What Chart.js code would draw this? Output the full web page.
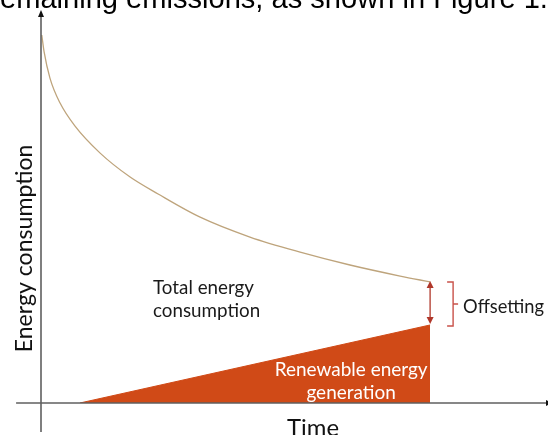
<!DOCTYPE html>
<html><head><meta charset="utf-8">
<script src="https://cdn.jsdelivr.net/npm/chart.js@4"></script>
<style>html,body{margin:0;padding:0;background:#fff;overflow:hidden}#wrap{position:relative;width:548px;height:435px}canvas{display:block}</style>
</head><body><div id="wrap"><canvas id="c" width="548" height="435"></canvas></div>
<script>
// ---- data (time 0..100, energy 0..100) ----
const TIME = [0.2, 0.8, 2.3, 4.9, 8.7, 15.2, 22.9, 30.1, 40.9, 53.7, 66.6, 79.4, 92.3, 100];
const TOTAL_ENERGY = [100, 95.4, 88.3, 81.5, 75.3, 67.9, 61.4, 56.8, 50.5, 45.1, 41.0, 37.5, 34.5, 32.9];
const RENEWABLE_TIME = [10, 100];
const RENEWABLE = [0, 21.2];
const X_MAX = 130.3;
const Y_MAX = 106.25;

// ---- texts ----
const CAPTION = "remaining emissions, as shown in Figure 1.";
const X_TITLE = "Time";
const Y_TITLE = "Energy consumption";
const TOTAL_LABEL = ["Total energy", "consumption"];
const RENEW_LABEL = ["Renewable energy", "generation"];
const OFFSET_LABEL = "Offsetting";

const FONT = "Lato, 'Open Sans', sans-serif";
const CAP_FONT = "'Liberation Sans', Arial, sans-serif";

function fitSize(ctx, text, family, w) {
  ctx.font = '100px ' + family;
  return 100 * w / ctx.measureText(text).width;
}
function setFont(ctx, size, family) { ctx.font = size.toFixed(2) + 'px ' + family; }
function capAsc(ctx) { return ctx.measureText('H').actualBoundingBoxAscent; }

const overlay = {
  id: 'overlay',
  afterDatasetsDraw(chart) {
    const {ctx, scales: {x, y}} = chart;
    const X = v => x.getPixelForValue(v), Y = v => y.getPixelForValue(v);
    ctx.save();

    // axes
    const x0 = X(0), y0 = Y(0), yTop = Y(Y_MAX);
    ctx.strokeStyle = '#5f5f5f'; ctx.lineWidth = 1.6;
    ctx.beginPath(); ctx.moveTo(x0, Y(-7.9)); ctx.lineTo(x0, yTop + 5); ctx.stroke();
    ctx.beginPath(); ctx.moveTo(X(-6.4), y0); ctx.lineTo(X(X_MAX) - 2, y0); ctx.stroke();
    ctx.fillStyle = '#111';
    ctx.beginPath(); ctx.moveTo(x0, yTop - 2); ctx.lineTo(x0 - 3, yTop + 5); ctx.lineTo(x0 + 3, yTop + 5); ctx.closePath(); ctx.fill();
    const xr = X(X_MAX) - 2;
    ctx.beginPath(); ctx.moveTo(xr + 6, y0); ctx.lineTo(xr, y0 - 3); ctx.lineTo(xr, y0 + 3); ctx.closePath(); ctx.fill();

    // offsetting double arrow
    const ax = X(TIME[TIME.length - 1]);
    const aTop = Y(TOTAL_ENERGY[TOTAL_ENERGY.length - 1]) - 1;
    const aBot = Y(RENEWABLE[RENEWABLE.length - 1]) - 1;
    ctx.strokeStyle = '#b0372a'; ctx.fillStyle = '#b0372a'; ctx.lineWidth = 1.3;
    ctx.beginPath(); ctx.moveTo(ax, aTop + 6); ctx.lineTo(ax, aBot - 6); ctx.stroke();
    ctx.beginPath(); ctx.moveTo(ax, aTop); ctx.lineTo(ax - 3.5, aTop + 7); ctx.lineTo(ax + 3.5, aTop + 7); ctx.closePath(); ctx.fill();
    ctx.beginPath(); ctx.moveTo(ax, aBot); ctx.lineTo(ax - 3.5, aBot - 7); ctx.lineTo(ax + 3.5, aBot - 7); ctx.closePath(); ctx.fill();

    // bracket
    const bT = aTop + 1, bB = aBot + 2, bM = (bT + bB) / 2;
    ctx.strokeStyle = '#c9524a'; ctx.lineWidth = 1.4;
    ctx.beginPath();
    ctx.moveTo(ax + 17, bT); ctx.lineTo(ax + 23, bT); ctx.lineTo(ax + 23, bB); ctx.lineTo(ax + 17, bB);
    ctx.moveTo(ax + 23, bM); ctx.lineTo(ax + 28, bM);
    ctx.stroke();

    // labels
    ctx.fillStyle = '#1a1a1a'; ctx.textAlign = 'left'; ctx.textBaseline = 'alphabetic';
    let s = fitSize(ctx, OFFSET_LABEL, FONT, 81); setFont(ctx, s, FONT);
    ctx.fillText(OFFSET_LABEL, ax + 33, bM - 5 + capAsc(ctx));

    s = fitSize(ctx, TOTAL_LABEL[0], FONT, 101); setFont(ctx, s, FONT);
    const tx = X(28.8), tTop = Y(33.4);
    const tb = tTop + capAsc(ctx);
    ctx.fillText(TOTAL_LABEL[0], tx, tb);
    ctx.fillText(TOTAL_LABEL[1], tx, tb + 23);

    ctx.fillStyle = '#ffffff'; ctx.textAlign = 'center';
    s = fitSize(ctx, RENEW_LABEL[0], FONT, 153); setFont(ctx, s, FONT);
    const rx = X(79.7), rTop = Y(11.2);
    const rb = rTop + capAsc(ctx);
    ctx.fillText(RENEW_LABEL[0], rx, rb);
    ctx.fillText(RENEW_LABEL[1], rx, rb + 23);

    // axis titles
    ctx.fillStyle = '#111';
    s = fitSize(ctx, X_TITLE, FONT, 52); setFont(ctx, s, FONT);
    ctx.fillText(X_TITLE, X(69.9), y0 + 16 + capAsc(ctx));

    s = fitSize(ctx, Y_TITLE, FONT, 208); setFont(ctx, s, FONT);
    ctx.save();
    ctx.translate(x0 - 26, Y(42));
    ctx.rotate(-Math.PI / 2);
    ctx.textBaseline = 'alphabetic';
    ctx.fillText(Y_TITLE, 0, capAsc(ctx) - 0);
    ctx.restore();

    // cut-off caption line at the top
    ctx.textAlign = 'left'; ctx.fillStyle = '#000';
    s = fitSize(ctx, CAPTION.slice(1, -1), CAP_FONT, 540); setFont(ctx, s, CAP_FONT);
    const rw = ctx.measureText(CAPTION[0]).width;
    ctx.fillText(CAPTION, -rw, 7.5);

    ctx.restore();
  }
};

new Chart(document.getElementById('c'), {
  type: 'scatter',
  data: {
    datasets: [
      {
        data: RENEWABLE_TIME.map((t, i) => ({x: t, y: RENEWABLE[i]})),
        showLine: true, fill: 'origin', tension: 0,
        backgroundColor: '#d04a17', borderColor: '#d04a17', borderWidth: 1,
        pointRadius: 0, order: 2
      },
      {
        data: TIME.map((t, i) => ({x: t, y: TOTAL_ENERGY[i]})),
        showLine: true, fill: false, cubicInterpolationMode: 'monotone',
        borderColor: '#bea47c', borderWidth: 1.3, pointRadius: 0, order: 1
      }
    ]
  },
  options: {
    responsive: false, animation: false, devicePixelRatio: 1, events: [],
    layout: {padding: {left: 41, right: 0, top: 12, bottom: 32}},
    scales: {
      x: {type: 'linear', min: 0, max: X_MAX, display: false},
      y: {type: 'linear', min: 0, max: Y_MAX, display: false}
    },
    plugins: {legend: {display: false}, tooltip: {enabled: false}}
  },
  plugins: [overlay]
});
</script></body></html>
